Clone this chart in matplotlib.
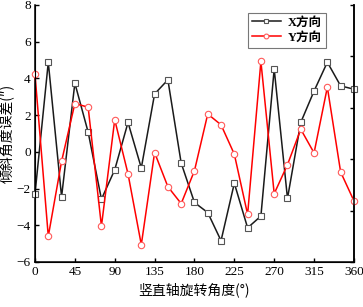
import matplotlib
matplotlib.use("Agg")
import matplotlib.pyplot as plt

angles = [0, 15, 30, 45, 60, 75, 90, 105, 120, 135, 150, 165, 180,
          195, 210, 225, 240, 255, 270, 285, 300, 315, 330, 345, 360]
x_err = [-2.3, 4.88, -2.45, 3.74, 1.07, -2.58, -0.98, 1.60, -0.88, 3.15, 3.92, -0.61, -2.76,
         -3.31, -4.84, -1.71, -4.14, -3.50, 4.51, -2.54, 1.60, 3.31, 4.88, 3.59, 3.41]
y_err = [4.22, -4.60, -0.52, 2.63, 2.43, -4.05, 1.75, -1.20, -5.06, -0.04, -1.90, -2.82, -1.03,
         2.06, 1.47, -0.13, -3.41, 4.92, -2.28, -0.70, 1.23, -0.06, 3.52, -1.10, -2.67]
x_ticks = [0, 45, 90, 135, 180, 225, 270, 315, 360]
y_ticks = [-6, -4, -2, 0, 2, 4, 6, 8]
series_labels = ["X方向", "Y方向"]
xlabel = "竖直轴旋转角度(°)"
ylabel = "倾斜角度误差(″)"

fam = ["Liberation Serif", "Noto Sans CJK SC"]
plt.rcParams['font.family'] = fam

fig = plt.figure(figsize=(3.63, 3.07), dpi=100)
ax = fig.add_axes([0.0964, 0.1466, 0.8786, 0.8374])

ax.plot(angles, x_err, color="#1a1a1a", lw=1.1, marker="s", ms=4.0,
        mfc="white", mec="#555555", mew=0.8, label=series_labels[0], clip_on=False, zorder=3)
ax.plot(angles, y_err, color="#ff0000", lw=1.1, marker="o", ms=4.6,
        mfc="white", mec="#ff5a5a", mew=0.8, label=series_labels[1], clip_on=False, zorder=4)

ax.set_xlim(0, 360)
ax.set_ylim(-6, 8)
ax.set_xticks(x_ticks)
ax.set_yticks(y_ticks)
ax.tick_params(direction="in", labelsize=9.5, length=3, width=1, pad=3)
ax.spines["top"].set_visible(False)
for s in ["left", "bottom", "right"]:
    ax.spines[s].set_linewidth(1.1)

ax2 = ax.twinx()
ax2.set_ylim(0, 5)
ax2.set_yticks([0, 1, 2, 3, 4, 5])
ax2.set_yticklabels([])
ax2.tick_params(direction="in", length=3, width=1)
ax2.spines["top"].set_visible(False)
ax2.spines["right"].set_linewidth(1.1)

ax.set_xlabel(xlabel, fontsize=10, labelpad=3, family=["Noto Sans CJK SC", "DejaVu Sans"])
ax.set_ylabel(ylabel, fontsize=10, labelpad=2, family=["Noto Sans CJK SC", "DejaVu Sans"])

leg = ax.legend(loc="upper right", bbox_to_anchor=(0.912, 0.969),
                frameon=True, fancybox=False, edgecolor="#555555", handlelength=2.3,
                markerscale=0.75, borderpad=0.3, labelspacing=0.25, handletextpad=0.6,
                borderaxespad=0.0,
                prop={"family": ["Liberation Serif", "Noto Sans CJK SC"], "weight": "bold", "size": 9})
leg.get_frame().set_linewidth(0.8)

fig.savefig("out.png", dpi=100)
